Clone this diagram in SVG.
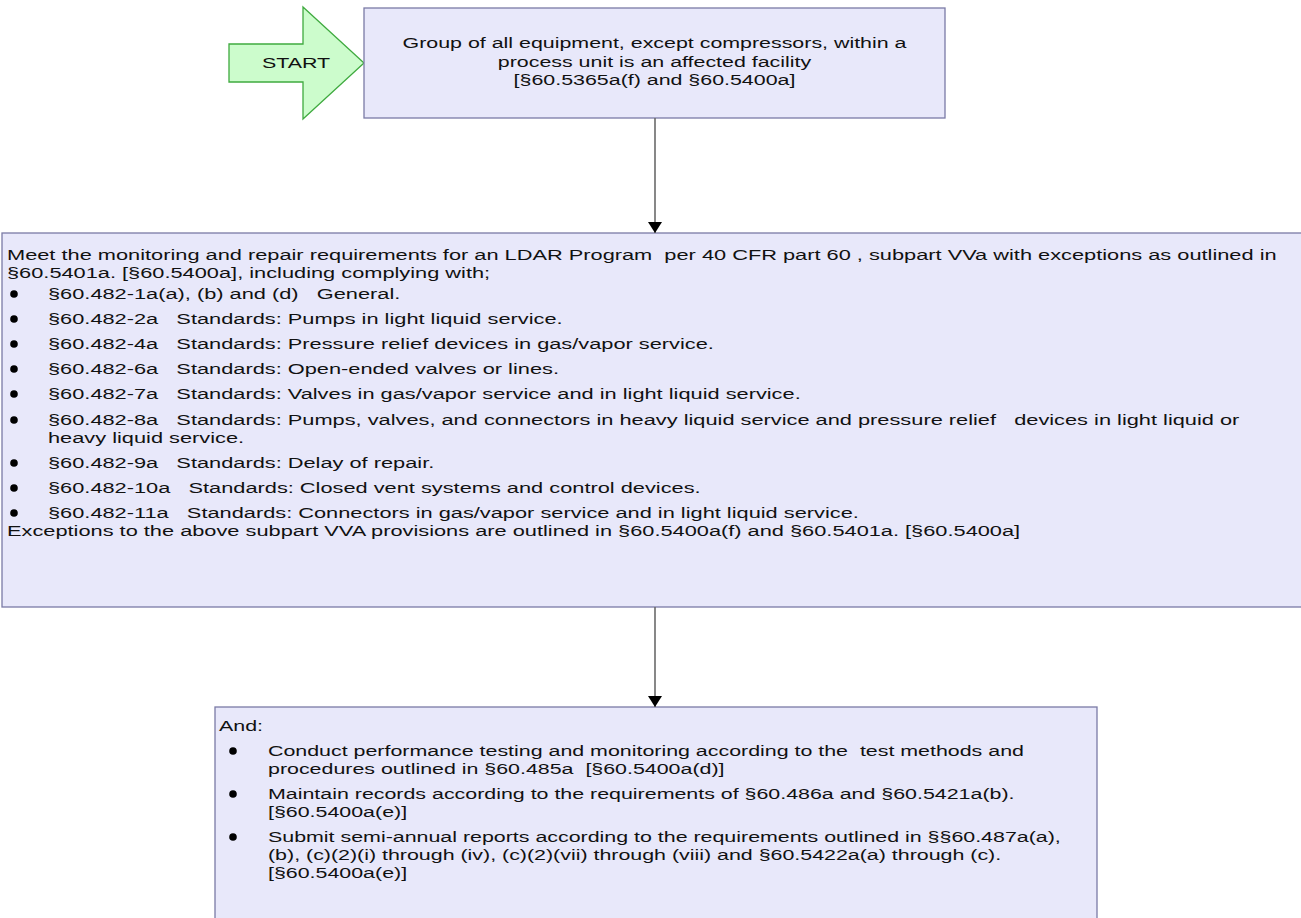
<svg xmlns="http://www.w3.org/2000/svg" width="1301" height="918" viewBox="0 0 1301 918" xml:space="preserve">
  <style>
    .box { fill: #e8e8fa; stroke: #7a7aa6; stroke-width: 1.3; }
    .t { font-family: "Liberation Sans", Arial, sans-serif; font-size: 15.4px; fill: #111; white-space: pre; }
    .mid { text-anchor: middle; }
    .dot { fill: #000; }
    .edge { stroke: #6a6a6a; stroke-width: 1.6; fill: none; marker-end: url(#head); }
  </style>
  <defs>
    <marker id="head" viewBox="0 0 11 14" refX="11" refY="7" markerWidth="11" markerHeight="14" markerUnits="userSpaceOnUse" orient="auto">
      <path d="M0,0 L11,7 L0,14 Z" fill="#000"/>
    </marker>
  </defs>
  <rect width="1301" height="918" fill="#fff"/>

  <!-- start arrow -->
  <g id="start">
    <path d="M229,44 L303,44 L303,7 L364,63 L303,119 L303,82 L229,82 Z" fill="#ccfccc" stroke="#3faa3f" stroke-width="1.3"/>
    <text class="t mid" transform="translate(296 68) scale(1.39 1)">START</text>
  </g>

  <!-- affected facility -->
  <g id="node-facility">
    <rect class="box" x="364" y="8" width="581" height="110"/>
    <text class="t mid" transform="translate(654.5 48) scale(1.39 1)">Group of all equipment, except compressors, within a</text>
    <text class="t mid" transform="translate(654.5 67) scale(1.39 1)">process unit is an affected facility</text>
    <text class="t mid" transform="translate(654.5 85) scale(1.39 1)">[§60.5365a(f) and §60.5400a]</text>
  </g>

  <!-- LDAR program requirements -->
  <g id="node-ldar">
    <rect class="box" x="2" y="233" width="1310" height="374"/>
    <text class="t" transform="translate(7 260) scale(1.415 1)">Meet the monitoring and repair requirements for an LDAR Program  per 40 CFR part 60 , subpart VVa with exceptions as outlined in</text>
    <text class="t" transform="translate(7 278) scale(1.415 1)">§60.5401a. [§60.5400a], including complying with;</text>
    <circle class="dot" cx="14" cy="294" r="3.8"/>
    <text class="t" transform="translate(48 299) scale(1.415 1)">§60.482-1a(a), (b) and (d)   General.</text>
    <circle class="dot" cx="14" cy="319" r="3.8"/>
    <text class="t" transform="translate(48 324) scale(1.415 1)">§60.482-2a   Standards: Pumps in light liquid service.</text>
    <circle class="dot" cx="14" cy="344" r="3.8"/>
    <text class="t" transform="translate(48 349) scale(1.415 1)">§60.482-4a   Standards: Pressure relief devices in gas/vapor service.</text>
    <circle class="dot" cx="14" cy="369" r="3.8"/>
    <text class="t" transform="translate(48 374) scale(1.415 1)">§60.482-6a   Standards: Open-ended valves or lines.</text>
    <circle class="dot" cx="14" cy="394" r="3.8"/>
    <text class="t" transform="translate(48 399) scale(1.415 1)">§60.482-7a   Standards: Valves in gas/vapor service and in light liquid service.</text>
    <circle class="dot" cx="14" cy="420" r="3.8"/>
    <text class="t" transform="translate(48 425) scale(1.415 1)">§60.482-8a   Standards: Pumps, valves, and connectors in heavy liquid service and pressure relief   devices in light liquid or</text>
    <text class="t" transform="translate(48 443) scale(1.415 1)">heavy liquid service.</text>
    <circle class="dot" cx="14" cy="463" r="3.8"/>
    <text class="t" transform="translate(48 468) scale(1.415 1)">§60.482-9a   Standards: Delay of repair.</text>
    <circle class="dot" cx="14" cy="488" r="3.8"/>
    <text class="t" transform="translate(48 493) scale(1.415 1)">§60.482-10a   Standards: Closed vent systems and control devices.</text>
    <circle class="dot" cx="14" cy="513" r="3.8"/>
    <text class="t" transform="translate(48 518) scale(1.415 1)">§60.482-11a   Standards: Connectors in gas/vapor service and in light liquid service.</text>
    <text class="t" transform="translate(7 536) scale(1.415 1)">Exceptions to the above subpart VVA provisions are outlined in §60.5400a(f) and §60.5401a. [§60.5400a]</text>
  </g>

  <!-- testing, records and reports -->
  <g id="node-and">
    <rect class="box" x="215" y="707" width="882" height="230"/>
    <text class="t" transform="translate(219 731) scale(1.39 1)">And:</text>
    <circle class="dot" cx="233" cy="751" r="3.8"/>
    <text class="t" transform="translate(268 756) scale(1.39 1)">Conduct performance testing and monitoring according to the  test methods and</text>
    <text class="t" transform="translate(268 774) scale(1.39 1)">procedures outlined in §60.485a  [§60.5400a(d)]</text>
    <circle class="dot" cx="233" cy="794" r="3.8"/>
    <text class="t" transform="translate(268 799) scale(1.39 1)">Maintain records according to the requirements of §60.486a and §60.5421a(b).</text>
    <text class="t" transform="translate(268 817) scale(1.39 1)">[§60.5400a(e)]</text>
    <circle class="dot" cx="233" cy="837" r="3.8"/>
    <text class="t" transform="translate(268 842) scale(1.39 1)">Submit semi-annual reports according to the requirements outlined in §§60.487a(a),</text>
    <text class="t" transform="translate(268 860) scale(1.39 1)">(b), (c)(2)(i) through (iv), (c)(2)(vii) through (viii) and §60.5422a(a) through (c).</text>
    <text class="t" transform="translate(268 878) scale(1.39 1)">[§60.5400a(e)]</text>
  </g>

  <!-- connectors -->
  <g id="connectors">
    <line class="edge" x1="655" y1="118" x2="655" y2="233"/>
    <line class="edge" x1="655" y1="607" x2="655" y2="707"/>
  </g>
</svg>
